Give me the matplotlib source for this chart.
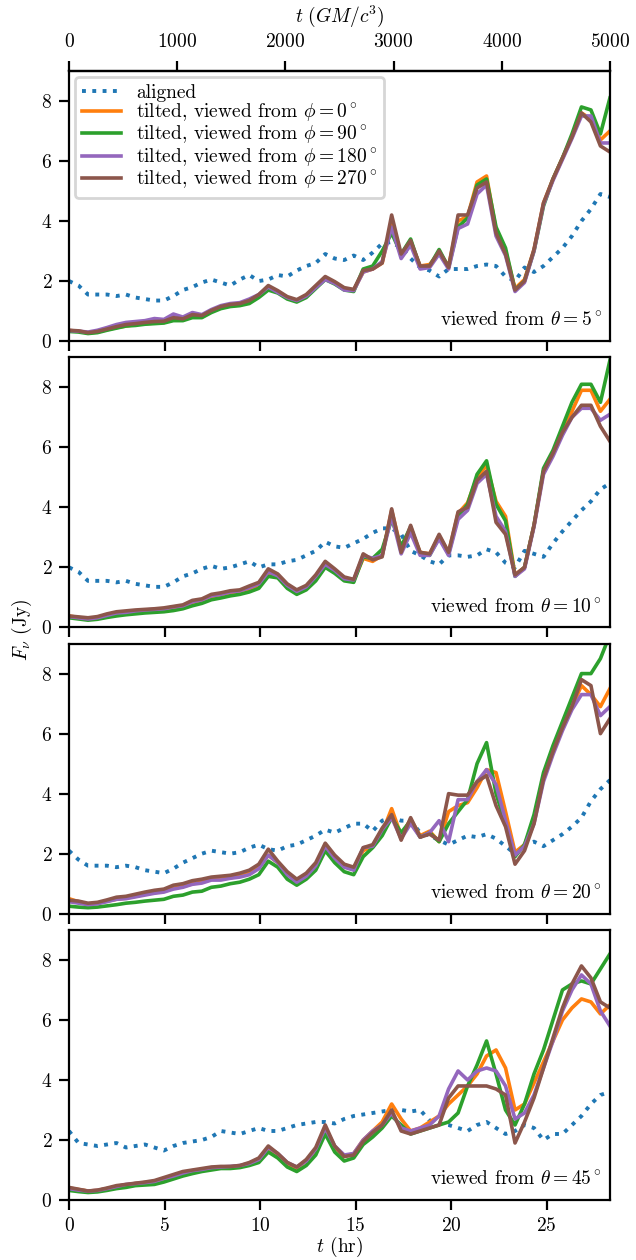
import numpy as np
import matplotlib
matplotlib.use('Agg')
import matplotlib.pyplot as plt

plt.rcParams['font.family'] = 'serif'
plt.rcParams['font.serif'] = ['cmr10']
plt.rcParams['mathtext.fontset'] = 'cm'
plt.rcParams['axes.unicode_minus'] = False
plt.rcParams['axes.formatter.use_mathtext'] = True
plt.rcParams['font.size'] = 7

# time in hr (5000 GM/c^3 for Sgr A*)
T_END = 28.32
t_hr = np.linspace(0, T_END, 58)
thetas = [5, 10, 20, 45]
phis = [0, 90, 180, 270]

aligned_5 = [2.00, 1.85, 1.55, 1.55, 1.55, 1.50, 1.55, 1.45, 1.40, 1.35,
             1.35, 1.50, 1.70, 1.80, 1.95, 2.05, 1.95, 1.85, 2.05, 2.20,
             2.00, 2.05, 2.20, 2.15, 2.35, 2.50, 2.60, 2.90, 2.75, 2.70,
             2.85, 2.70, 2.95, 3.25, 3.30, 3.10, 2.75, 2.45, 2.35, 2.15,
             2.40, 2.40, 2.40, 2.50, 2.55, 2.50, 2.15, 2.00, 2.45, 2.30,
             2.50, 2.80, 3.10, 3.50, 4.00, 4.40, 4.90, 4.80]
phi0_5 = [0.35, 0.33, 0.27, 0.30, 0.38, 0.45, 0.50, 0.55, 0.58, 0.60,
          0.62, 0.72, 0.70, 0.82, 0.80, 0.98, 1.12, 1.18, 1.20, 1.30,
          1.50, 1.78, 1.65, 1.45, 1.35, 1.50, 1.80, 2.10, 1.95, 1.75,
          1.70, 2.30, 2.40, 2.60, 3.90, 2.85, 3.30, 2.50, 2.55, 2.95,
          2.50, 4.00, 4.15, 5.30, 5.50, 3.70, 3.00, 1.75, 2.05, 3.05,
          4.60, 5.40, 6.10, 6.80, 7.60, 7.40, 6.70, 7.00]
phi90_5 = [0.32, 0.30, 0.25, 0.28, 0.36, 0.43, 0.50, 0.52, 0.56, 0.58,
           0.60, 0.68, 0.68, 0.78, 0.78, 0.95, 1.08, 1.15, 1.18, 1.25,
           1.45, 1.70, 1.60, 1.40, 1.30, 1.45, 1.75, 2.05, 1.90, 1.70,
           1.65, 2.40, 2.50, 3.00, 3.60, 2.90, 3.40, 2.45, 2.50, 3.05,
           2.45, 3.80, 4.10, 5.20, 5.40, 3.80, 3.10, 1.70, 2.00, 3.00,
           4.50, 5.40, 6.10, 6.90, 7.80, 7.70, 6.90, 8.10]
phi180_5 = [0.35, 0.33, 0.30, 0.36, 0.45, 0.55, 0.62, 0.65, 0.68, 0.75,
            0.72, 0.90, 0.80, 0.95, 0.88, 1.05, 1.18, 1.25, 1.28, 1.40,
            1.55, 1.80, 1.62, 1.45, 1.35, 1.50, 1.78, 2.05, 1.92, 1.70,
            1.68, 2.30, 2.40, 2.65, 3.80, 2.75, 3.20, 2.40, 2.45, 2.90,
            2.40, 3.75, 3.90, 4.90, 5.20, 3.50, 2.85, 1.65, 1.95, 3.00,
            4.55, 5.35, 6.05, 6.75, 7.50, 7.50, 6.60, 6.60]
phi270_5 = [0.36, 0.34, 0.28, 0.32, 0.40, 0.48, 0.55, 0.58, 0.62, 0.65,
            0.66, 0.78, 0.74, 0.88, 0.85, 1.02, 1.15, 1.22, 1.25, 1.35,
            1.55, 1.85, 1.68, 1.48, 1.38, 1.55, 1.85, 2.15, 1.98, 1.78,
            1.72, 2.35, 2.40, 2.60, 4.20, 2.90, 3.35, 2.50, 2.50, 3.00,
            2.45, 4.20, 4.20, 5.10, 5.30, 3.60, 2.90, 1.70, 2.00, 3.05,
            4.60, 5.40, 6.10, 6.80, 7.60, 7.30, 6.50, 6.30]

aligned_10 = [2.00, 1.85, 1.55, 1.55, 1.55, 1.50, 1.55, 1.45, 1.40, 1.35,
              1.35, 1.50, 1.70, 1.80, 1.95, 2.05, 1.95, 2.00, 2.10, 2.20,
              2.00, 2.10, 2.10, 2.20, 2.25, 2.40, 2.55, 2.85, 2.70, 2.65,
              2.80, 2.95, 3.15, 3.30, 3.30, 3.10, 2.55, 2.40, 2.20, 2.10,
              2.40, 2.40, 2.35, 2.40, 2.60, 2.50, 2.15, 2.00, 2.55, 2.45,
              2.35, 2.80, 3.20, 3.55, 3.90, 4.20, 4.60, 4.80]
phi0_10 = [0.38, 0.33, 0.28, 0.30, 0.36, 0.42, 0.45, 0.50, 0.52, 0.55,
           0.58, 0.62, 0.68, 0.78, 0.85, 1.00, 1.05, 1.12, 1.15, 1.25,
           1.35, 1.80, 1.70, 1.35, 1.15, 1.30, 1.60, 2.05, 1.85, 1.60,
           1.55, 2.30, 2.20, 2.40, 3.90, 2.60, 3.30, 2.50, 2.45, 3.05,
           2.50, 3.80, 4.15, 5.00, 5.40, 4.20, 3.70, 1.75, 2.00, 3.40,
           5.20, 5.80, 6.50, 7.20, 7.90, 7.90, 7.20, 7.60]
phi90_10 = [0.32, 0.28, 0.24, 0.27, 0.33, 0.38, 0.42, 0.45, 0.48, 0.50,
            0.52, 0.56, 0.62, 0.72, 0.80, 0.92, 0.98, 1.05, 1.10, 1.18,
            1.30, 1.70, 1.65, 1.30, 1.10, 1.25, 1.55, 2.00, 1.80, 1.55,
            1.50, 2.35, 2.30, 2.60, 3.60, 2.70, 3.35, 2.45, 2.40, 3.00,
            2.45, 3.70, 4.10, 5.10, 5.55, 4.10, 3.55, 1.70, 2.00, 3.40,
            5.30, 5.90, 6.70, 7.50, 8.10, 8.10, 7.50, 8.90]
phi180_10 = [0.36, 0.32, 0.28, 0.32, 0.40, 0.48, 0.50, 0.55, 0.58, 0.60,
             0.62, 0.68, 0.72, 0.85, 0.92, 1.05, 1.10, 1.18, 1.22, 1.32,
             1.45, 1.85, 1.72, 1.40, 1.20, 1.35, 1.70, 2.10, 1.90, 1.62,
             1.58, 2.40, 2.30, 2.40, 3.70, 2.45, 3.15, 2.40, 2.40, 2.95,
             2.40, 3.60, 3.90, 4.80, 5.10, 3.70, 3.20, 1.70, 1.95, 3.35,
             5.10, 5.70, 6.40, 7.00, 7.30, 7.30, 6.90, 7.10]
phi270_10 = [0.38, 0.35, 0.32, 0.36, 0.45, 0.52, 0.55, 0.58, 0.60, 0.62,
             0.65, 0.70, 0.75, 0.90, 0.95, 1.10, 1.15, 1.22, 1.25, 1.38,
             1.50, 1.95, 1.78, 1.45, 1.25, 1.40, 1.75, 2.20, 1.95, 1.68,
             1.60, 2.45, 2.25, 2.35, 3.95, 2.50, 3.40, 2.50, 2.45, 3.10,
             2.50, 3.85, 4.00, 4.90, 5.20, 3.50, 3.10, 1.75, 2.00, 3.40,
             5.20, 5.80, 6.50, 7.00, 7.40, 7.40, 6.70, 6.20]

aligned_20 = [2.10, 1.80, 1.60, 1.60, 1.60, 1.55, 1.60, 1.55, 1.45, 1.40,
              1.35, 1.50, 1.70, 1.85, 2.00, 2.10, 2.05, 2.00, 2.05, 2.20,
              2.30, 2.15, 2.10, 2.25, 2.30, 2.45, 2.60, 2.80, 2.70, 2.85,
              3.00, 3.00, 2.75, 3.10, 3.20, 3.10, 3.10, 2.70, 2.60, 2.45,
              2.30, 2.45, 2.60, 2.55, 2.65, 2.50, 2.25, 2.00, 2.30, 2.40,
              2.25, 2.45, 2.65, 2.90, 3.20, 3.75, 4.15, 4.45]
phi0_20 = [0.50, 0.40, 0.32, 0.35, 0.42, 0.48, 0.52, 0.58, 0.65, 0.70,
           0.75, 0.85, 0.90, 1.00, 1.05, 1.15, 1.15, 1.20, 1.25, 1.35,
           1.55, 1.95, 1.70, 1.35, 1.10, 1.30, 1.60, 2.25, 1.90, 1.60,
           1.50, 2.10, 2.25, 2.70, 3.50, 2.60, 3.15, 2.60, 2.75, 2.40,
           3.40, 3.60, 3.70, 4.20, 4.80, 4.70, 3.40, 2.05, 2.30, 3.10,
           4.50, 5.40, 6.20, 6.90, 7.60, 7.30, 6.90, 7.50]
phi90_20 = [0.25, 0.22, 0.20, 0.22, 0.26, 0.30, 0.35, 0.38, 0.42, 0.45,
            0.48, 0.58, 0.62, 0.72, 0.75, 0.88, 0.92, 1.00, 1.05, 1.15,
            1.30, 1.75, 1.55, 1.15, 0.95, 1.15, 1.45, 2.10, 1.70, 1.40,
            1.30, 1.90, 2.20, 2.60, 3.20, 2.70, 3.10, 2.55, 2.70, 2.40,
            3.00, 3.40, 3.80, 5.00, 5.70, 4.00, 3.00, 1.90, 2.30, 3.30,
            4.70, 5.60, 6.40, 7.20, 8.00, 8.00, 8.50, 9.30]
phi180_20 = [0.40, 0.35, 0.30, 0.33, 0.40, 0.48, 0.50, 0.56, 0.62, 0.68,
             0.72, 0.82, 0.88, 0.98, 1.02, 1.12, 1.12, 1.18, 1.22, 1.30,
             1.50, 1.95, 1.70, 1.30, 1.05, 1.25, 1.60, 2.25, 1.85, 1.55,
             1.45, 2.20, 2.25, 2.80, 3.20, 2.50, 3.00, 2.55, 2.70, 3.10,
             2.40, 3.80, 3.80, 4.40, 4.80, 4.30, 3.10, 1.95, 2.25, 3.00,
             4.40, 5.30, 6.10, 6.80, 7.30, 7.30, 6.60, 6.90]
phi270_20 = [0.45, 0.42, 0.35, 0.38, 0.46, 0.55, 0.58, 0.65, 0.72, 0.78,
             0.82, 0.95, 1.00, 1.10, 1.15, 1.22, 1.25, 1.28, 1.35, 1.45,
             1.65, 2.15, 1.75, 1.40, 1.15, 1.35, 1.70, 2.35, 1.95, 1.65,
             1.55, 2.20, 2.30, 2.85, 3.30, 2.45, 3.20, 2.55, 2.65, 2.45,
             4.00, 3.95, 3.95, 4.40, 4.60, 3.60, 2.90, 1.65, 2.10, 3.00,
             4.50, 5.40, 6.20, 6.90, 7.80, 7.60, 6.00, 6.50]

aligned_45 = [2.30, 1.90, 1.85, 1.80, 1.85, 1.90, 1.75, 1.80, 1.85, 1.75,
              1.65, 1.80, 1.90, 1.95, 2.00, 2.10, 2.30, 2.25, 2.20, 2.30,
              2.40, 2.30, 2.30, 2.40, 2.50, 2.55, 2.60, 2.60, 2.55, 2.70,
              2.80, 2.85, 2.90, 2.95, 3.00, 3.00, 2.95, 3.00, 2.65, 2.55,
              2.50, 2.40, 2.30, 2.50, 2.60, 2.40, 2.20, 2.30, 2.50, 2.40,
              2.00, 2.20, 2.20, 2.50, 2.80, 3.20, 3.50, 3.60]
phi0_45 = [0.40, 0.35, 0.30, 0.32, 0.38, 0.45, 0.50, 0.55, 0.58, 0.60,
           0.70, 0.78, 0.88, 0.95, 1.00, 1.05, 1.10, 1.10, 1.12, 1.20,
           1.30, 1.70, 1.50, 1.20, 1.05, 1.30, 1.65, 2.40, 1.75, 1.45,
           1.55, 2.00, 2.30, 2.60, 3.20, 2.70, 2.30, 2.40, 2.60, 2.80,
           3.20, 3.50, 3.80, 4.20, 4.80, 5.00, 4.40, 3.00, 3.20, 3.90,
           4.60, 5.30, 6.00, 6.40, 6.70, 6.60, 6.20, 6.50]
phi90_45 = [0.32, 0.28, 0.25, 0.27, 0.32, 0.38, 0.42, 0.48, 0.50, 0.52,
            0.60, 0.70, 0.80, 0.88, 0.95, 1.00, 1.05, 1.05, 1.08, 1.15,
            1.25, 1.60, 1.40, 1.10, 0.95, 1.15, 1.50, 2.20, 1.60, 1.30,
            1.40, 1.85, 2.10, 2.40, 2.80, 2.50, 2.20, 2.30, 2.40, 2.50,
            2.60, 2.90, 3.80, 4.50, 5.30, 4.20, 3.00, 2.50, 3.20, 4.20,
            5.00, 6.00, 7.00, 7.20, 7.30, 7.20, 7.70, 8.20]
phi180_45 = [0.38, 0.33, 0.30, 0.32, 0.38, 0.45, 0.52, 0.55, 0.58, 0.62,
             0.72, 0.80, 0.90, 0.98, 1.02, 1.08, 1.10, 1.12, 1.15, 1.22,
             1.35, 1.75, 1.55, 1.25, 1.10, 1.30, 1.70, 2.40, 1.80, 1.50,
             1.55, 2.00, 2.30, 2.50, 2.90, 2.40, 2.30, 2.40, 2.50, 2.80,
             3.70, 4.30, 4.00, 4.30, 4.40, 4.30, 3.80, 2.70, 2.90, 3.50,
             4.40, 5.30, 6.30, 7.00, 7.50, 7.20, 6.30, 5.80]
phi270_45 = [0.42, 0.36, 0.30, 0.33, 0.40, 0.48, 0.52, 0.56, 0.60, 0.65,
             0.75, 0.85, 0.95, 1.00, 1.05, 1.10, 1.12, 1.12, 1.15, 1.25,
             1.40, 1.80, 1.55, 1.25, 1.10, 1.35, 1.75, 2.50, 1.80, 1.45,
             1.50, 1.95, 2.25, 2.50, 3.00, 2.30, 2.20, 2.30, 2.40, 2.50,
             3.40, 3.80, 3.80, 3.80, 3.80, 3.70, 3.50, 1.90, 2.60, 3.40,
             4.40, 5.40, 6.40, 7.20, 7.80, 7.40, 6.60, 6.40]

aligned = [aligned_5, aligned_10, aligned_20, aligned_45]
tilted = [[phi0_5, phi90_5, phi180_5, phi270_5],
          [phi0_10, phi90_10, phi180_10, phi270_10],
          [phi0_20, phi90_20, phi180_20, phi270_20],
          [phi0_45, phi90_45, phi180_45, phi270_45]]
colors = ['C1', 'C2', 'C4', 'C5']


def hr_to_M(x):
    return x * 5000 / T_END


def M_to_hr(x):
    return x * T_END / 5000


fig, axes = plt.subplots(4, 1, figsize=(3.18, 6.3), dpi=200, sharex=True)
fig.subplots_adjust(left=0.1085, right=0.959, top=0.9437, bottom=0.0476, hspace=0.06)

for k, ax in enumerate(axes):
    ax.plot(t_hr, aligned[k], ':', color='C0', lw=1.4, label='aligned')
    for j, phi in enumerate(phis):
        ax.plot(t_hr, tilted[k][j], color=colors[j], lw=1.3,
                label=rf'tilted, viewed from $\phi = {phi}^\circ$')
    ax.set_xlim(0, T_END)
    ax.set_ylim(0, 9)
    ax.set_yticks([0, 2, 4, 6, 8])
    ax.tick_params(pad=2.5)
    ax.text(0.985, 0.04, rf'viewed from $\theta = {thetas[k]}^\circ$',
            transform=ax.transAxes, ha='right', va='bottom', fontsize=7)

axes[0].legend(loc='upper left', fontsize=7, handlelength=2.0, borderaxespad=0.3,
               labelspacing=0.0, handletextpad=0.8, borderpad=0.35)
secax = axes[0].secondary_xaxis('top', functions=(hr_to_M, M_to_hr))
secax.set_xticks([0, 1000, 2000, 3000, 4000, 5000])
secax.set_xlabel(r'$t\ (GM/c^3)$')
axes[-1].set_xticks([0, 5, 10, 15, 20, 25])
axes[-1].set_xlabel(r'$t$ (hr)', labelpad=0)
fig.text(0.035, 0.5, r'$F_\nu$ (Jy)', rotation=90, ha='center', va='center')

fig.savefig('out.png', dpi=200)
